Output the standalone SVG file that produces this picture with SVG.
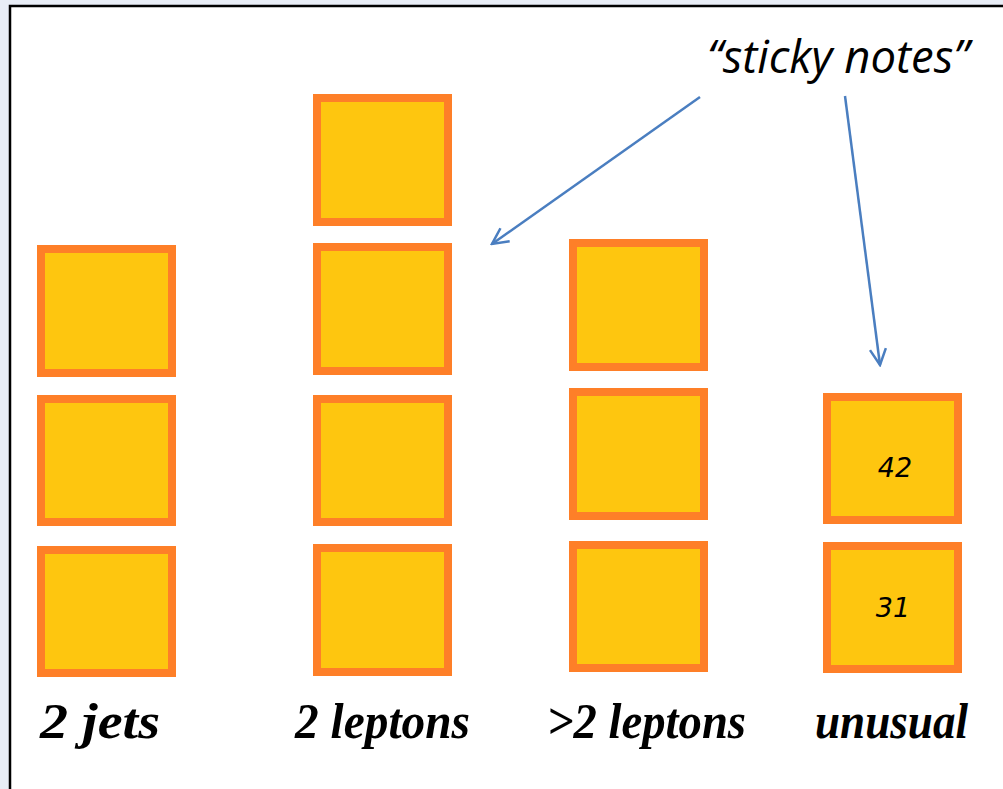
<svg xmlns="http://www.w3.org/2000/svg" width="1003" height="789" viewBox="0 0 1003 789">
  <defs>
    <style>
      .note { fill: #FEC60F; stroke: #FE7F28; stroke-width: 8; }
      .lbl { font-family: "Liberation Serif", "DejaVu Serif", serif; font-style: italic; font-weight: bold; font-size: 50px; fill: #000; }
      .num { font-family: "DejaVu Sans", sans-serif; font-style: oblique; font-size: 27px; fill: #000; text-anchor: middle; }
      .conn { stroke: #4A7EC0; stroke-width: 2.5; fill: none; }
    </style>
    <marker id="arr" markerWidth="20" markerHeight="20" refX="18" refY="10" orient="auto" markerUnits="userSpaceOnUse">
      <path d="M2,2 L18,10 L2,18" fill="none" stroke="#4A7EC0" stroke-width="2.5"/>
    </marker>
  </defs>
  <rect x="0" y="0" width="1003" height="789" fill="#E8EDF6"/>
  <rect x="10" y="6" width="1000" height="800" fill="#FFFFFF" stroke="#000" stroke-width="2.5"/>

  <g id="col-2jets">
    <rect class="note" x="41" y="249" width="131" height="124"/>
    <rect class="note" x="41" y="399" width="131" height="123"/>
    <rect class="note" x="41" y="550" width="131" height="123"/>
    <text class="lbl" x="40" y="738" textLength="120" lengthAdjust="spacingAndGlyphs">2 jets</text>
  </g>
  <g id="col-2leptons">
    <rect class="note" x="317" y="98" width="131" height="124"/>
    <rect class="note" x="317" y="247" width="131" height="124"/>
    <rect class="note" x="317" y="399" width="131" height="123"/>
    <rect class="note" x="317" y="548" width="131" height="124"/>
    <text class="lbl" x="295" y="738" textLength="175" lengthAdjust="spacingAndGlyphs">2 leptons</text>
  </g>
  <g id="col-gt2leptons">
    <rect class="note" x="573" y="243" width="131" height="124"/>
    <rect class="note" x="573" y="392" width="131" height="124"/>
    <rect class="note" x="573" y="545" width="131" height="123"/>
    <text class="lbl" x="547" y="738" textLength="199" lengthAdjust="spacingAndGlyphs">&gt;2 leptons</text>
  </g>
  <g id="col-unusual">
    <rect class="note" x="827" y="397" width="131" height="123"/>
    <text class="num" x="895" y="477">42</text>
    <rect class="note" x="827" y="546" width="131" height="123"/>
    <text class="num" x="893" y="617">31</text>
    <text class="lbl" x="815" y="738" textLength="153" lengthAdjust="spacingAndGlyphs">unusual</text>
  </g>

  <g id="sticky-label">
    <text x="707" y="73" font-family="Open Sans, Liberation Sans, sans-serif" font-style="italic" font-size="45" textLength="262" lengthAdjust="spacingAndGlyphs">“sticky notes”</text>
  </g>

  <g id="connectors">
    <line class="conn" x1="700" y1="97" x2="492" y2="244" marker-end="url(#arr)"/>
    <line class="conn" x1="845" y1="96" x2="880" y2="365" marker-end="url(#arr)"/>
  </g>
</svg>
